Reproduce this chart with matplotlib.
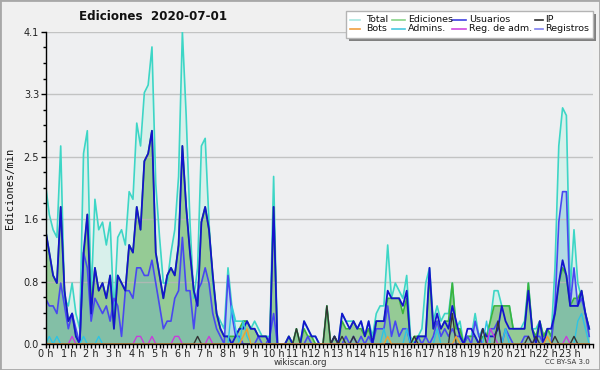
import numpy as np
import matplotlib
matplotlib.use("Agg")
import matplotlib.pyplot as plt
from matplotlib.patches import Rectangle
from matplotlib.lines import Line2D
from matplotlib.ticker import FixedLocator, FuncFormatter

# ---------------- data (edits per minute, 10-minute steps) ----------------
hour_labels = [f"{h} h" for h in range(24)]

total = [
    2.1, 1.7, 1.5, 1.4, 2.6, 0.6,
    0.5, 0.8, 0.4, 0.2, 2.5, 2.8,
    0.6, 1.9, 1.5, 1.6, 1.3, 1.6,
    0.4, 1.4, 1.5, 1.3, 2.0, 1.9,
    2.9, 2.6, 3.3, 3.4, 3.9, 2.1,
    1.4, 0.8, 0.8, 1.2, 1.5, 2.2,
    4.1, 3.0, 1.6, 0.6, 1.0, 2.6,
    2.7, 1.6, 0.8, 0.4, 0.3, 0.2,
    1.0, 0.5, 0.3, 0.3, 0.3, 0.3,
    0.2, 0.3, 0.2, 0.1, 0.1, 0.1,
    2.2, 0.0, 0.0, 0.0, 0.1, 0.0,
    0.2, 0.0, 0.3, 0.2, 0.1, 0.1,
    0.0, 0.0, 0.5, 0.0, 0.1, 0.0,
    0.4, 0.3, 0.3, 0.3, 0.2, 0.3,
    0.1, 0.3, 0.1, 0.4, 0.5, 0.5,
    1.3, 0.6, 0.8, 0.7, 0.6, 0.9,
    0.1, 0.0, 0.1, 0.2, 0.8, 1.0,
    0.3, 0.5, 0.3, 0.4, 0.4, 0.8,
    0.2, 0.3, 0.0, 0.1, 0.1, 0.4,
    0.1, 0.2, 0.1, 0.3, 0.7, 0.7,
    0.5, 0.5, 0.5, 0.2, 0.2, 0.2,
    0.3, 0.8, 0.2, 0.2, 0.3, 0.1,
    0.2, 0.1, 1.0, 2.6, 3.1, 3.0,
    0.7, 1.5, 0.8, 0.6, 0.4, 0.2,
]

ediciones = [
    1.5, 1.2, 0.9, 0.8, 1.8, 0.7,
    0.3, 0.4, 0.1, 0.0, 1.1, 1.7,
    0.5, 1.0, 0.7, 0.8, 0.6, 0.9,
    0.2, 0.9, 0.8, 0.7, 1.3, 1.2,
    1.8, 1.5, 2.4, 2.5, 2.8, 1.2,
    0.9, 0.6, 0.9, 1.0, 0.9, 1.3,
    2.6, 1.8, 1.2, 0.7, 0.5, 1.6,
    1.8, 1.5, 0.9, 0.4, 0.2, 0.1,
    0.1, 0.1, 0.1, 0.2, 0.3, 0.3,
    0.2, 0.2, 0.1, 0.1, 0.1, 0.0,
    1.8, 0.0, 0.0, 0.0, 0.1, 0.0,
    0.2, 0.0, 0.2, 0.1, 0.1, 0.0,
    0.0, 0.0, 0.5, 0.0, 0.1, 0.0,
    0.3, 0.2, 0.2, 0.3, 0.2, 0.2,
    0.1, 0.2, 0.0, 0.3, 0.3, 0.3,
    0.6, 0.6, 0.6, 0.6, 0.4, 0.6,
    0.0, 0.1, 0.1, 0.1, 0.1, 0.9,
    0.2, 0.3, 0.2, 0.3, 0.3, 0.8,
    0.2, 0.2, 0.0, 0.1, 0.1, 0.1,
    0.0, 0.1, 0.1, 0.3, 0.5, 0.5,
    0.5, 0.5, 0.5, 0.2, 0.2, 0.2,
    0.2, 0.8, 0.2, 0.1, 0.3, 0.1,
    0.2, 0.1, 0.4, 0.8, 1.0, 0.9,
    0.5, 0.6, 0.6, 0.7, 0.4, 0.2,
]

usuarios = [
    1.5, 1.2, 0.9, 0.8, 1.8, 0.7,
    0.3, 0.4, 0.1, 0.0, 1.2, 1.7,
    0.4, 1.0, 0.7, 0.8, 0.6, 0.9,
    0.2, 0.9, 0.8, 0.7, 1.3, 1.2,
    1.8, 1.5, 2.4, 2.5, 2.8, 1.2,
    0.9, 0.6, 0.9, 1.0, 0.9, 1.3,
    2.6, 1.8, 1.2, 0.7, 0.5, 1.6,
    1.8, 1.5, 0.9, 0.4, 0.2, 0.1,
    0.1, 0.0, 0.1, 0.2, 0.2, 0.3,
    0.2, 0.2, 0.1, 0.1, 0.1, 0.0,
    1.8, 0.0, 0.0, 0.0, 0.1, 0.0,
    0.0, 0.0, 0.3, 0.2, 0.1, 0.1,
    0.0, 0.0, 0.0, 0.0, 0.1, 0.0,
    0.4, 0.3, 0.2, 0.3, 0.2, 0.3,
    0.1, 0.3, 0.0, 0.3, 0.3, 0.3,
    0.7, 0.6, 0.6, 0.6, 0.5, 0.7,
    0.0, 0.0, 0.1, 0.1, 0.1, 1.0,
    0.2, 0.4, 0.2, 0.3, 0.2, 0.5,
    0.3, 0.1, 0.0, 0.2, 0.2, 0.1,
    0.0, 0.2, 0.1, 0.1, 0.1, 0.2,
    0.5, 0.3, 0.2, 0.2, 0.2, 0.2,
    0.2, 0.7, 0.2, 0.0, 0.3, 0.0,
    0.2, 0.2, 0.4, 0.8, 1.1, 0.9,
    0.5, 0.5, 0.5, 0.7, 0.4, 0.2,
]

ip = [
    0, 0, 0, 0, 0, 0,
    0, 0, 0, 0, 0, 0,
    0, 0, 0, 0, 0, 0,
    0, 0, 0, 0, 0, 0,
    0, 0, 0, 0, 0, 0,
    0, 0, 0, 0, 0, 0,
    0, 0, 0, 0, 0.1, 0,
    0, 0, 0, 0, 0, 0,
    0, 0, 0, 0, 0, 0,
    0, 0, 0, 0, 0, 0,
    0, 0, 0, 0, 0, 0,
    0.2, 0, 0, 0, 0, 0,
    0, 0, 0.5, 0, 0.1, 0,
    0.1, 0, 0, 0.1, 0, 0,
    0, 0, 0, 0, 0, 0,
    0, 0, 0, 0, 0, 0,
    0, 0.1, 0, 0, 0, 0,
    0, 0, 0, 0, 0, 0.4,
    0, 0, 0, 0, 0, 0,
    0, 0.2, 0, 0, 0, 0.3,
    0, 0, 0, 0, 0, 0,
    0, 0.1, 0, 0.1, 0, 0,
    0, 0, 0.1, 0, 0, 0,
    0, 0.1, 0, 0, 0, 0,
]

bots = [
    0, 0, 0, 0, 0, 0,
    0, 0, 0, 0, 0, 0,
    0, 0, 0, 0, 0, 0,
    0, 0, 0, 0, 0, 0,
    0, 0, 0, 0, 0, 0,
    0, 0, 0, 0, 0, 0,
    0, 0, 0, 0, 0, 0,
    0, 0, 0, 0, 0, 0,
    0, 0, 0, 0, 0.1, 0.2,
    0, 0, 0, 0, 0, 0,
    0, 0, 0, 0, 0, 0,
    0, 0, 0, 0, 0, 0,
    0, 0, 0, 0, 0, 0,
    0, 0, 0, 0, 0, 0,
    0, 0, 0, 0, 0, 0,
    0.1, 0, 0, 0, 0, 0,
    0, 0, 0, 0, 0, 0,
    0, 0, 0, 0, 0, 0,
    0.1, 0, 0, 0, 0, 0,
    0, 0, 0, 0, 0, 0,
    0, 0, 0, 0, 0, 0,
    0, 0, 0, 0, 0, 0,
    0.1, 0, 0, 0, 0, 0,
    0, 0, 0, 0, 0, 0,
]

admins = [
    0, 0.1, 0, 0.1, 0, 0,
    0, 0, 0, 0, 0.1, 0,
    0, 0, 0.1, 0, 0, 0,
    0, 0, 0, 0, 0, 0,
    0, 0, 0, 0, 0, 0,
    0, 0, 0, 0, 0, 0,
    0, 0, 0, 0, 0, 0,
    0, 0, 0, 0, 0, 0,
    0, 0.5, 0.2, 0, 0.3, 0.1,
    0, 0, 0, 0, 0, 0,
    0, 0, 0, 0, 0, 0,
    0, 0, 0, 0, 0, 0,
    0, 0, 0, 0, 0, 0,
    0, 0, 0, 0, 0, 0,
    0, 0, 0, 0, 0, 0.2,
    0, 0, 0, 0, 0, 0.2,
    0, 0, 0, 0, 0, 0,
    0, 0.2, 0, 0, 0, 0,
    0, 0, 0, 0, 0, 0,
    0, 0, 0.3, 0, 0, 0,
    0, 0.2, 0, 0, 0, 0,
    0, 0, 0, 0, 0, 0,
    0, 0, 0, 0, 0, 0,
    0, 0, 0.3, 0.4, 0.2, 0,
]

reg_adm = [
    0, 0, 0, 0, 0, 0,
    0, 0.1, 0, 0, 0, 0,
    0, 0, 0, 0, 0, 0,
    0, 0, 0, 0, 0, 0,
    0.1, 0.1, 0, 0, 0.1, 0,
    0, 0, 0, 0, 0.1, 0.1,
    0, 0, 0, 0, 0, 0,
    0, 0.1, 0, 0, 0, 0,
    0, 0, 0, 0, 0, 0,
    0, 0, 0, 0, 0, 0,
    0, 0, 0, 0, 0, 0,
    0, 0, 0, 0, 0, 0,
    0, 0, 0, 0, 0, 0,
    0, 0, 0, 0, 0, 0,
    0, 0, 0, 0, 0, 0,
    0, 0, 0, 0, 0, 0,
    0, 0, 0, 0, 0, 0,
    0, 0, 0, 0, 0, 0,
    0, 0, 0, 0, 0, 0,
    0, 0, 0, 0.2, 0.1, 0,
    0, 0, 0, 0, 0, 0,
    0, 0, 0, 0, 0, 0,
    0, 0, 0, 0, 0, 0.1,
    0, 0, 0, 0, 0, 0,
]

registros = [
    0.6, 0.5, 0.5, 0.4, 0.8, 0.5,
    0.2, 0.4, 0.2, 0.0, 1.2, 1.0,
    0.3, 0.6, 0.5, 0.4, 0.5, 0.3,
    0.6, 0.5, 0.1, 0.7, 0.7, 0.6,
    1.0, 1.0, 0.9, 0.9, 1.1, 0.8,
    0.5, 0.2, 0.3, 0.3, 0.6, 0.7,
    1.4, 0.7, 0.7, 0.2, 0.7, 0.8,
    1.0, 0.8, 0.4, 0.2, 0.1, 0.0,
    0.9, 0.4, 0.1, 0.1, 0.0, 0.0,
    0.0, 0.0, 0.1, 0.0, 0.0, 0.1,
    0.4, 0.0, 0.0, 0.0, 0.0, 0.0,
    0.0, 0.0, 0.0, 0.1, 0.0, 0.0,
    0.0, 0.0, 0.0, 0.0, 0.0, 0.0,
    0.0, 0.1, 0.0, 0.1, 0.0, 0.1,
    0.0, 0.1, 0.0, 0.2, 0.2, 0.2,
    0.5, 0.1, 0.3, 0.1, 0.2, 0.2,
    0.0, 0.0, 0.1, 0.0, 0.1, 0.0,
    0.1, 0.3, 0.1, 0.2, 0.1, 0.2,
    0.1, 0.1, 0.0, 0.1, 0.0, 0.3,
    0.1, 0.0, 0.0, 0.2, 0.2, 0.3,
    0.0, 0.2, 0.1, 0.0, 0.0, 0.0,
    0.1, 0.1, 0.0, 0.1, 0.1, 0.0,
    0.0, 0.0, 0.5, 1.6, 2.0, 2.0,
    0.5, 1.0, 0.5, 0.6, 0.4, 0.1,
]

legend_names = ["Total", "Ediciones", "Usuarios", "IP",
                "Bots", "Admins.", "Reg. de adm.", "Registros"]
legend_colors = ["#a8e8e0", "#88d488", "#4040e0", "#303030",
                 "#f0a040", "#48c8e0", "#d048e0", "#8080f0"]

# ---------------- figure ----------------
W, H = 600, 370
fx = lambda x: x / W
fy = lambda y: 1 - y / H

fig = plt.figure(figsize=(W / 100, H / 100), dpi=100, facecolor="#f0f0f0")
ax = fig.add_axes([fx(45.5), fy(344), (593 - 45.5) / W, (344 - 31.7) / H])
ax.set_facecolor("#eeeff1")

t = np.arange(len(total)) / 6.0
ymax = 4.1
ax.set_xlim(0, 24)
ax.set_ylim(0, ymax)

# fills
ax.fill_between(t, 0, total, color="#d8f0eb", lw=0, zorder=1)
ax.fill_between(t, 0, ediciones, color="#95cb95", lw=0, zorder=2)
ax.fill_between(t, 0, registros, color=(86/255, 163/255, 213/255), alpha=0.28, lw=0, zorder=3)

# grid over the fills
for v in np.arange(1, 6) * ymax / 5:
    ax.axhline(v, color="#b8b8b8", lw=1, alpha=0.8, zorder=4)

# lines
ax.plot(t, total, color="#3dd6c6", lw=1.2, zorder=5)
ax.plot(t, ediciones, color="#3cb43c", lw=1.2, zorder=6)
ax.plot(t, registros, color="#4848f0", lw=1.2, zorder=7)
ax.plot(t, usuarios, color="#1414cc", lw=1.3, zorder=8)
ax.plot(t, admins, color="#2ec4e4", lw=1.0, zorder=9)
ax.plot(t, reg_adm, color="#c83cdc", lw=1.0, zorder=9)
ax.plot(t, ip, color="#333333", lw=1.0, zorder=9)
ax.plot(t, bots, color="#f0a030", lw=1.0, zorder=9)

# axes styling
for s in ["top", "right"]:
    ax.spines[s].set_visible(False)
for s in ["left", "bottom"]:
    ax.spines[s].set_color("black")
    ax.spines[s].set_linewidth(1)
    ax.spines[s].set_zorder(10)

ymaj = np.arange(6) * ymax / 5
ax.yaxis.set_major_locator(FixedLocator(ymaj))
ax.yaxis.set_minor_locator(FixedLocator(np.arange(21) * ymax / 20))
ax.yaxis.set_major_formatter(FuncFormatter(lambda v, p: f"{v:.1f}"))
ax.xaxis.set_major_locator(FixedLocator(np.arange(24)))
ax.set_xticklabels(hour_labels)
ax.xaxis.set_minor_locator(FixedLocator(np.arange(145) / 6.0))
ax.tick_params(axis="y", which="major", labelsize=7, length=3.6, width=1,
               color="black", labelcolor="#222222", pad=1)
ax.tick_params(axis="y", which="minor", length=2.2, width=1, color="black")
ax.tick_params(axis="x", which="major", labelsize=7, length=3, width=1,
               color="black", labelcolor="#222222", pad=0.3)
ax.tick_params(axis="x", which="minor", length=2.6, width=0.9, color="black")

# texts
fig.text(fx(10), fy(188), "Ediciones/min", rotation=90, fontsize=7.5,
         family="DejaVu Sans Mono", ha="center", va="center", color="#111111")
fig.text(fx(153), fy(17), "Ediciones  2020-07-01", fontsize=8.6, fontweight="bold",
         ha="center", va="center", color="#111111")
fig.text(fx(300), fy(362.5), "wikiscan.org", fontsize=6.2, ha="center", va="center",
         color="#333333")
fig.text(fx(590), fy(362.5), "CC BY-SA 3.0", fontsize=5, ha="right", va="center",
         color="#333333")

# legend (manual, with drop shadow)
lx0, ly0, lx1, ly1 = 346, 11, 593, 38
fig.patches.append(Rectangle((fx(lx0 + 3), fy(ly1 + 3)), (lx1 - lx0) / W, (ly1 - ly0) / H,
                             transform=fig.transFigure, facecolor="#808080",
                             edgecolor="none", zorder=20))
fig.patches.append(Rectangle((fx(lx0), fy(ly1)), (lx1 - lx0) / W, (ly1 - ly0) / H,
                             transform=fig.transFigure, facecolor="white",
                             edgecolor="#b4b4b4", lw=1, zorder=21))
cols = [(350, 360, 366), (392, 405, 408), (452, 466, 469), (535, 543, 545)]
rows = [19.5, 28.5]
for k, (name, col) in enumerate(zip(legend_names, legend_colors)):
    r, c = divmod(k, 4)
    x1, x2, xt = cols[c]
    y = rows[r]
    fig.lines.append(Line2D([fx(x1), fx(x2)], [fy(y), fy(y)], transform=fig.transFigure,
                            color=col, lw=1.2, zorder=22))
    fig.text(fx(xt), fy(y), name, fontsize=6.8, ha="left", va="center",
             color="#111111", zorder=23)

# outer border
fig.patches.append(Rectangle((0, 0), 1, 1, transform=fig.transFigure, fill=False,
                             edgecolor="#a8a8a8", lw=2, zorder=30))

fig.savefig("out.png", dpi=100, facecolor=fig.get_facecolor())
